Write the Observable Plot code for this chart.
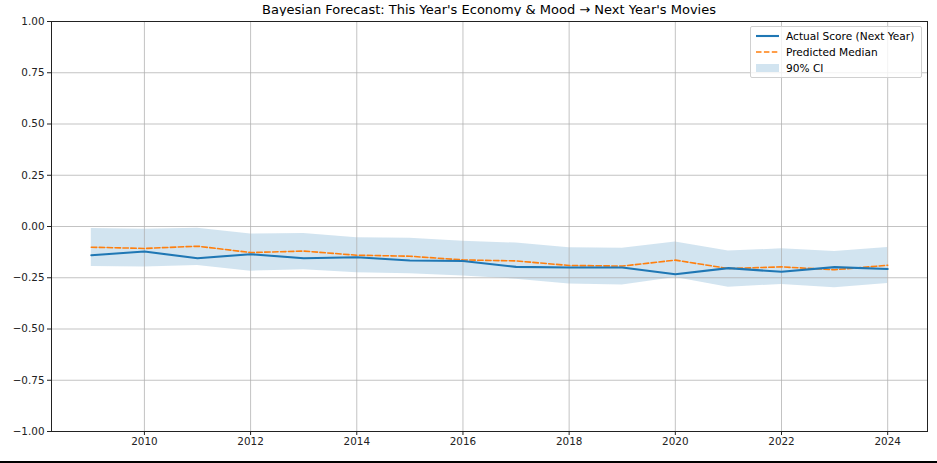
<!DOCTYPE html>
<html><head><meta charset="utf-8">
<script src="https://cdn.jsdelivr.net/npm/d3@7"></script>
<script src="https://cdn.jsdelivr.net/npm/@observablehq/plot@0.6"></script>
<style>
body{margin:0;background:#fff;font-family:"DejaVu Sans",sans-serif;}
#wrap{position:relative;width:937px;height:463px;overflow:hidden;background:#fff;}
#title{position:absolute;left:51px;width:876px;top:0;height:18px;line-height:19px;font-size:13px;text-align:center;color:#000;white-space:nowrap;}
#chart{position:absolute;left:0;top:16px;}
#legend{position:absolute;left:750px;top:26px;width:170px;height:50px;border:1px solid #d0d0d0;border-radius:2px;background:rgba(255,255,255,0.8);font-size:10.6px;color:#000;}
.row{position:absolute;left:5px;height:16px;display:flex;align-items:center;}
.row span{margin-left:7px;white-space:nowrap;}
#bottom{position:absolute;left:0;top:461px;width:937px;height:2px;background:#000;}
</style>
</head><body>
<div id="wrap">
  <div id="title"></div>
  <div id="chart"></div>
  <div id="legend"></div>
  <div id="bottom"></div>
</div>
<script>
const years = [2009,2010,2011,2012,2013,2014,2015,2016,2017,2018,2019,2020,2021,2022,2023,2024];
const actual = [-0.140,-0.122,-0.155,-0.135,-0.155,-0.150,-0.166,-0.168,-0.197,-0.200,-0.200,-0.233,-0.203,-0.221,-0.198,-0.207];
const predicted = [-0.101,-0.107,-0.096,-0.127,-0.120,-0.140,-0.145,-0.163,-0.168,-0.190,-0.193,-0.164,-0.205,-0.197,-0.211,-0.189];
const ciUpper = [-0.010,-0.013,-0.008,-0.037,-0.034,-0.055,-0.057,-0.072,-0.081,-0.104,-0.106,-0.076,-0.120,-0.109,-0.122,-0.102];
const ciLower = [-0.195,-0.198,-0.190,-0.218,-0.211,-0.226,-0.231,-0.241,-0.257,-0.280,-0.285,-0.249,-0.296,-0.283,-0.299,-0.278];
const xTicks = [2010,2012,2014,2016,2018,2020,2022,2024];
const yTicks = [-1,-0.75,-0.5,-0.25,0,0.25,0.5,0.75,1];
const legendLabels = ["Actual Score (Next Year)","Predicted Median","90% CI"];
const title = "Bayesian Forecast: This Year's Economy & Mood → Next Year's Movies";

const rows = years.map((y,i)=>({year:y, actual:actual[i], pred:predicted[i], lo:ciLower[i], hi:ciUpper[i]}));
const blue = "#1f77b4", orange = "#ff7f0e";

const chart = Plot.plot({
  width: 937, height: 445,
  marginTop: 5, marginBottom: 30, marginLeft: 51, marginRight: 10,
  style: {fontFamily: "DejaVu Sans, sans-serif", fontSize: "10.4px", color: "#222", background: "#fff", overflow: "visible"},
  x: {domain: [2008.25, 2024.75]},
  y: {domain: [-1, 1]},
  marks: [
    Plot.areaY(rows, {x: "year", y1: "lo", y2: "hi", fill: blue, fillOpacity: 0.2}),
    Plot.gridX(xTicks, {stroke: "#b0b0b0", strokeOpacity: 0.85, strokeWidth: 0.9}),
    Plot.gridY(yTicks, {stroke: "#b0b0b0", strokeOpacity: 0.85, strokeWidth: 0.9}),
    Plot.lineY(rows, {x: "year", y: "pred", stroke: orange, strokeWidth: 1.6, strokeDasharray: "5.5,2.4"}),
    Plot.lineY(rows, {x: "year", y: "actual", stroke: blue, strokeWidth: 2.1}),
    Plot.frame({stroke: "#222", strokeWidth: 1}),
    Plot.axisX(xTicks, {tickSize: 4, tickPadding: 2, tickFormat: d => String(d), label: null, stroke: "#222"}),
    Plot.axisY(yTicks, {tickSize: 4, tickPadding: 3, tickFormat: d3.format(".2f"), label: null, stroke: "#222"})
  ]
});
document.getElementById("chart").appendChild(chart);
document.getElementById("title").textContent = title;

const legend = document.getElementById("legend");
const swatches = [
  `<svg width="23" height="8"><line x1="0" y1="4" x2="23" y2="4" stroke="${blue}" stroke-width="2.1"/></svg>`,
  `<svg width="23" height="8"><line x1="0" y1="4" x2="23" y2="4" stroke="${orange}" stroke-width="1.6" stroke-dasharray="5.5,2.4"/></svg>`,
  `<svg width="23" height="8"><rect x="0" y="0" width="23" height="8" fill="${blue}" fill-opacity="0.2"/></svg>`
];
legendLabels.forEach((lab,i)=>{
  const r = document.createElement("div");
  r.className = "row";
  r.style.top = (1 + i*16) + "px";
  r.innerHTML = swatches[i] + `<span>${lab}</span>`;
  legend.appendChild(r);
});
</script>
</body></html>
